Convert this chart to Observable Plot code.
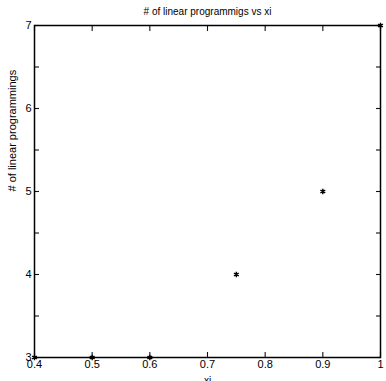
<!DOCTYPE html>
<html><head><meta charset="utf-8">
<script src="https://cdn.jsdelivr.net/npm/d3@7"></script>
<script src="https://cdn.jsdelivr.net/npm/@observablehq/plot@0.6"></script>
<style>
body{margin:0;background:#fff;}
svg{font-family:"Liberation Sans",Arial,sans-serif;}
</style>
</head><body>
<div id="chart"></div>
<script>
const xi = [0.4, 0.5, 0.6, 0.75, 0.9, 1];
const lps = [3, 3, 3, 4, 5, 7];
const xTicks = [0.4, 0.5, 0.6, 0.7, 0.8, 0.9, 1];
const xTickLabels = ["0.4", "0.5", "0.6", "0.7", "0.8", "0.9", "1"];
const yTicksMinor = [3, 3.5, 4, 4.5, 5, 5.5, 6, 6.5, 7];
const title = "# of linear programmigs vs xi";
const xLabel = "xi";
const yLabel = "# of linear programmings";

const data = xi.map((x, i) => ({x, y: lps[i]}));

const tk = 5;
const tickStyle = {tickSize: tk, tickFormat: () => "", label: null, stroke: "#111", strokeWidth: 1.1};

const plot = Plot.plot({
  width: 386, height: 381,
  marginLeft: 34, marginRight: 6, marginTop: 25, marginBottom: 24,
  style: {fontSize: "11px", fontFamily: "Liberation Sans, Arial, sans-serif", color: "#000", background: "#fff"},
  x: {domain: [0.4, 1]},
  y: {domain: [3, 7]},
  marks: [
    Plot.axisX({anchor: "bottom", ticks: xTicks, insetBottom: tk, ...tickStyle}),
    Plot.axisX({anchor: "top", ticks: xTicks, insetTop: tk, ...tickStyle}),
    Plot.axisY({anchor: "left", ticks: yTicksMinor, insetLeft: tk, ...tickStyle}),
    Plot.axisY({anchor: "right", ticks: yTicksMinor, insetRight: tk, ...tickStyle}),
    Plot.frame({stroke: "#000", strokeWidth: 1.5}),
    Plot.axisX({ticks: xTicks, tickFormat: d => xTickLabels[xTicks.indexOf(d)], tickSize: 0, tickPadding: 3, anchor: "bottom", label: null, fontSize: 11}),
    Plot.axisY({ticks: yTicksMinor, tickFormat: d => Number.isInteger(d) ? String(d) : "", tickSize: 0, tickPadding: 3, anchor: "left", label: null, fontSize: 11}),
    Plot.dot(data, {x: "x", y: "y", symbol: "asterisk", r: 2.6, stroke: "#000", strokeWidth: 1.4}),
    Plot.text([title], {frameAnchor: "top", dy: -18, fontSize: 10, lineAnchor: "top"}),
    Plot.text([xLabel], {frameAnchor: "bottom", dy: 19, fontSize: 10, lineAnchor: "top"}),
    Plot.text([yLabel], {frameAnchor: "left", dx: -22, rotate: -90, fontSize: 11})
  ]
});
document.getElementById("chart").appendChild(plot);
</script>
</body></html>
